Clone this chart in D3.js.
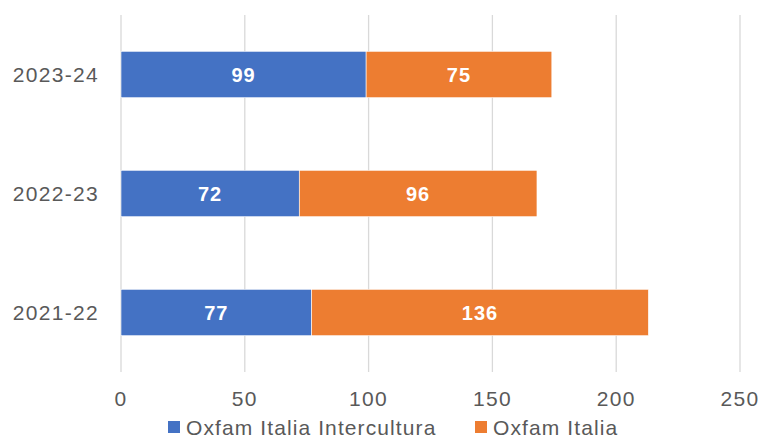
<!DOCTYPE html>
<html>
<head>
<meta charset="utf-8">
<script src="https://cdn.jsdelivr.net/npm/d3@7"></script>
<style>
  body { margin: 0; background: #fff; }
  text { font-family: Arial, "Liberation Sans", sans-serif; }
</style>
</head>
<body>
<div id="chart"></div>
<script>
// data
const years = ['2023-24', '2022-23', '2021-22'];
const intercultura = [99, 72, 77];
const italia = [75, 96, 136];
const seriesNames = ['Oxfam Italia Intercultura', 'Oxfam Italia'];
const seriesColors = ['#4472C4', '#ED7D31'];
const xTicks = [0, 50, 100, 150, 200, 250];

const W = 759, H = 438;
const margin = { top: 15, right: 19, bottom: 66, left: 121 };
const width = W - margin.left - margin.right;
const height = H - margin.top - margin.bottom;

const svg = d3.select('#chart').append('svg')
  .attr('width', W)
  .attr('height', H);

const g = svg.append('g')
  .attr('transform', `translate(${margin.left},${margin.top})`);

const x = d3.scaleLinear().domain([0, 250]).range([0, width]);
const y = d3.scaleBand().domain(years).range([0, height])
  .paddingInner(0.61).paddingOuter(0.305);

// gridlines
g.selectAll('.grid')
  .data(xTicks)
  .enter()
  .append('line')
  .attr('x1', d => x(d))
  .attr('x2', d => x(d))
  .attr('y1', 0)
  .attr('y2', height)
  .attr('stroke', '#d9d9d9')
  .attr('stroke-width', 1.3);

// x tick labels
g.selectAll('.xlab')
  .data(xTicks)
  .enter()
  .append('text')
  .attr('x', d => x(d))
  .attr('y', height + 34)
  .attr('text-anchor', 'middle')
  .style('font-size', '21px')
  .style('letter-spacing', '1.3px')
  .attr('fill', '#595959')
  .text(d => d);

// y labels
g.selectAll('.ylab')
  .data(years)
  .enter()
  .append('text')
  .attr('x', -22)
  .attr('y', d => y(d) + y.bandwidth() / 2 + 7.5)
  .attr('text-anchor', 'end')
  .style('font-size', '21px')
  .style('letter-spacing', '1.3px')
  .attr('fill', '#595959')
  .text(d => d);

// stacked bars
const rows = years.map((yr, i) => ({ year: yr, values: [intercultura[i], italia[i]] }));
const segs = [];
rows.forEach(r => {
  let start = 0;
  r.values.forEach((v, k) => {
    segs.push({ year: r.year, x0: start, x1: start + v, value: v, k });
    start += v;
  });
});

g.selectAll('.bar')
  .data(segs)
  .enter()
  .append('rect')
  .attr('x', d => x(d.x0))
  .attr('y', d => y(d.year))
  .attr('width', d => x(d.x1) - x(d.x0))
  .attr('height', y.bandwidth())
  .attr('fill', d => seriesColors[d.k])
  .attr('stroke', '#ffffff')
  .attr('stroke-width', 0.6);

g.selectAll('.val')
  .data(segs)
  .enter()
  .append('text')
  .attr('x', d => x((d.x0 + d.x1) / 2))
  .attr('y', d => y(d.year) + y.bandwidth() / 2 + 7.5)
  .attr('text-anchor', 'middle')
  .style('font-size', '20px')
  .style('font-weight', 'bold')
  .style('letter-spacing', '1px')
  .attr('fill', '#ffffff')
  .text(d => d.value);

// legend
const legendX = [168, 475];
const legend = svg.selectAll('.legend')
  .data(seriesNames)
  .enter()
  .append('g')
  .attr('transform', (d, i) => `translate(${legendX[i]},427)`);

legend.append('rect')
  .attr('x', 0)
  .attr('y', -6)
  .attr('width', 12)
  .attr('height', 12)
  .attr('fill', (d, i) => seriesColors[i]);

legend.append('text')
  .attr('x', 18)
  .attr('y', 7.5)
  .style('font-size', '21px')
  .style('letter-spacing', '1.1px')
  .attr('fill', '#595959')
  .text(d => d);
</script>
</body>
</html>
